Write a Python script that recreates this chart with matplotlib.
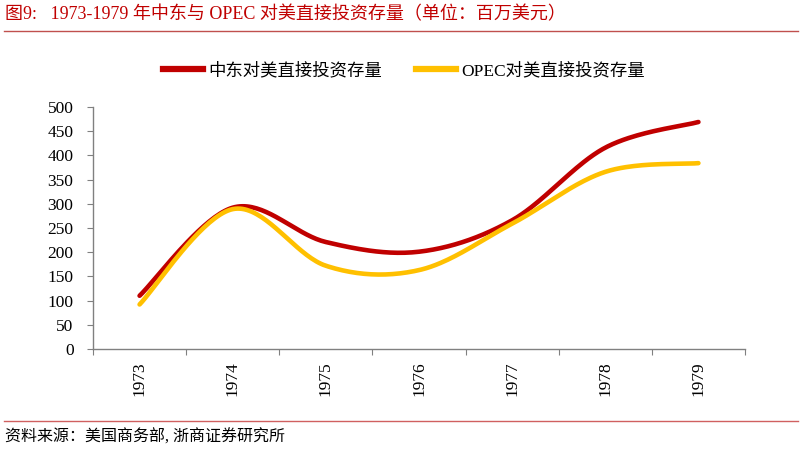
import matplotlib
matplotlib.use('Agg')
import numpy as np
import matplotlib.pyplot as plt
from matplotlib.lines import Line2D

plt.rcParams['font.family'] = ['Liberation Serif', 'Noto Sans CJK SC', 'DejaVu Sans']

years = ['1973', '1974', '1975', '1976', '1977', '1978', '1979']
mideast = [110, 292, 221, 201, 266, 416, 469]
opec = [92, 289, 172, 163, 259, 366, 384]
yticks = [0, 50, 100, 150, 200, 250, 300, 350, 400, 450, 500]

RED = '#C00000'
GOLD = '#FFC000'


def smooth(xs, ys, n=40):
    # excel-like bezier smoothing through every point
    p = np.column_stack([xs, ys]).astype(float)
    ext = np.vstack([p[0], p, p[-1]])
    out = []
    t = np.linspace(0, 1, n)[:, None]
    for i in range(len(p) - 1):
        p0, p1, p2, p3 = ext[i], ext[i + 1], ext[i + 2], ext[i + 3]
        c1 = p1 + (p2 - p0) / 6
        c2 = p2 - (p3 - p1) / 6
        seg = ((1 - t) ** 3) * p1 + 3 * ((1 - t) ** 2) * t * c1 + 3 * (1 - t) * t ** 2 * c2 + t ** 3 * p2
        out.append(seg if i == 0 else seg[1:])
    out = np.vstack(out)
    return out[:, 0], out[:, 1]


fig = plt.figure(figsize=(8.02, 4.53), dpi=100)
W, H = 802, 453
ax = fig.add_axes([93 / W, (H - 349) / H, (745 - 93) / W, (349 - 107) / H])

x = np.arange(len(years))
for vals, col in [(mideast, RED), (opec, GOLD)]:
    sx, sy = smooth(x, vals)
    ax.plot(sx, sy, color=col, lw=3.3, solid_capstyle='round', solid_joinstyle='round')

ax.set_xlim(-0.5, len(years) - 0.5)
ax.set_ylim(0, 500)
ax.set_yticks(yticks)
ax.set_yticklabels([str(v) for v in yticks], fontsize=12.5, family='Liberation Serif')
ax.set_xticks(np.arange(-0.5, len(years), 1.0))
ax.set_xticklabels([])
ax.set_xticks(x, minor=True)
ax.set_xticklabels(years, minor=True, rotation=90, fontsize=12.5, family='Liberation Serif')
ax.tick_params(axis='x', which='minor', length=0, pad=9)
ax.tick_params(axis='x', which='major', length=4, color='#808080', direction='out')
ax.tick_params(axis='y', length=4, color='#808080', direction='out', pad=10)
for s in ['top', 'right']:
    ax.spines[s].set_visible(False)
for s in ['left', 'bottom']:
    ax.spines[s].set_color('#808080')
    ax.spines[s].set_linewidth(1.0)

handles = [Line2D([], [], color=RED, lw=4.5), Line2D([], [], color=GOLD, lw=4.5)]
fig.legend(handles, ['中东对美直接投资存量', 'OPEC对美直接投资存量'], loc='center',
           bbox_to_anchor=(404 / W, 1 - 71 / H), ncol=2, frameon=False,
           handlelength=2.3, handletextpad=0.3, columnspacing=2.0,
           prop={'family': ['Liberation Serif', 'Noto Sans CJK SC'], 'size': 12.5})

fig.text(5 / W, 1 - 15 / H, '图9:   1973-1979 年中东与 OPEC 对美直接投资存量（单位：百万美元）',
         color='#C00000', fontsize=13, va='center', ha='left')
fig.add_artist(Line2D([4 / W, 798 / W], [1 - 31 / H, 1 - 31 / H], color='#C0504D', lw=1.0))
fig.add_artist(Line2D([4 / W, 798 / W], [1 - 421 / H, 1 - 421 / H], color='#D06060', lw=1.0))
fig.text(5 / W, 1 - 438 / H, '资料来源：美国商务部, 浙商证券研究所', fontsize=11.5, va='center', ha='left')

fig.savefig('out.png', dpi=100)
